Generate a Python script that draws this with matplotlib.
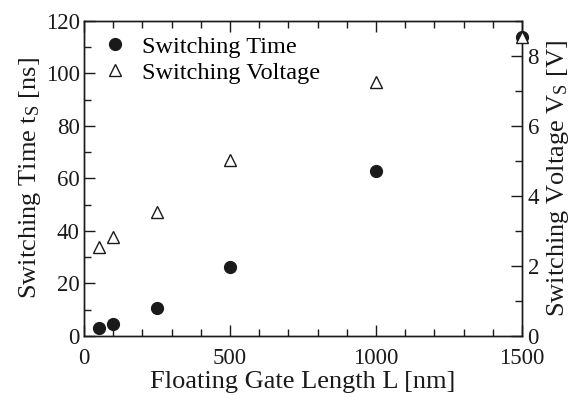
import matplotlib
matplotlib.use("Agg")
import matplotlib.pyplot as plt
from matplotlib.ticker import MultipleLocator

plt.rcParams["font.family"] = ["Liberation Serif", "DejaVu Serif"]
plt.rcParams["mathtext.fontset"] = "custom"
plt.rcParams["mathtext.rm"] = "Liberation Serif"
plt.rcParams["mathtext.it"] = "Liberation Serif:italic"

# Measured data
gate_length_nm = [50, 100, 250, 500, 1000, 1500]
switching_time_ns = [3.2, 4.7, 10.8, 26.2, 63.0, 113.8]
switching_voltage_v = [2.53, 2.83, 3.53, 5.04, 7.25, 8.54]

fs_tick = 16.5
fs_label = 19
fs_leg = 17.5
ink = "#1a1a1a"

fig = plt.figure(figsize=(5.8, 4.03), dpi=100)
ax = fig.add_axes([0.1448, 0.1663, 0.9 - 0.1448, 0.948 - 0.1663])
ax2 = ax.twinx()

h1, = ax.plot(gate_length_nm, switching_time_ns, "o", color=ink,
              markersize=8.5, linestyle="none", clip_on=False, zorder=3,
              label="Switching Time")
h2, = ax2.plot(gate_length_nm, switching_voltage_v, "^", markerfacecolor="white",
               markeredgecolor=ink, markeredgewidth=1.0, markersize=8,
               linestyle="none", clip_on=False, zorder=4,
               label="Switching Voltage")

ax.set_xlim(0, 1500)
ax.set_ylim(0, 120)
ax2.set_ylim(0, 9)

ax.xaxis.set_major_locator(MultipleLocator(500))
ax.xaxis.set_minor_locator(MultipleLocator(100))
ax.yaxis.set_major_locator(MultipleLocator(20))
ax.yaxis.set_minor_locator(MultipleLocator(10))
ax2.yaxis.set_major_locator(MultipleLocator(2))
ax2.yaxis.set_minor_locator(MultipleLocator(1))

ax.tick_params(which="both", direction="in", top=True, right=False,
               labelsize=fs_tick, colors=ink, width=1.0)
ax.tick_params(which="major", length=8)
ax.tick_params(which="minor", length=5)
ax.tick_params(axis="x", which="major", pad=9)
ax.tick_params(axis="y", which="major", pad=3)
ax2.tick_params(which="both", direction="in", labelsize=fs_tick,
                colors=ink, width=1.0)
ax2.tick_params(which="major", length=8, pad=4)
ax2.tick_params(which="minor", length=5)

for a in (ax, ax2):
    for s in a.spines.values():
        s.set_linewidth(1.0)
        s.set_color(ink)

ax.set_xlabel("Floating Gate Length L [nm]", fontsize=fs_label, color=ink, labelpad=1)
ax.set_ylabel(r"Switching Time t$_{\mathrm{S}}$ [ns]", fontsize=fs_label, color=ink, labelpad=2)
ax2.set_ylabel(r"Switching Voltage V$_{\mathrm{S}}$ [V]", fontsize=fs_label, color=ink,
               rotation=90, labelpad=4)

ax2.legend(handles=[h1, h2], loc="upper left", frameon=False, fontsize=fs_leg,
           handletextpad=0.5, borderaxespad=0.2, labelspacing=0.18,
           bbox_to_anchor=(0.005, 1.0), handlelength=1.2)

fig.savefig("out.png", dpi=100)
